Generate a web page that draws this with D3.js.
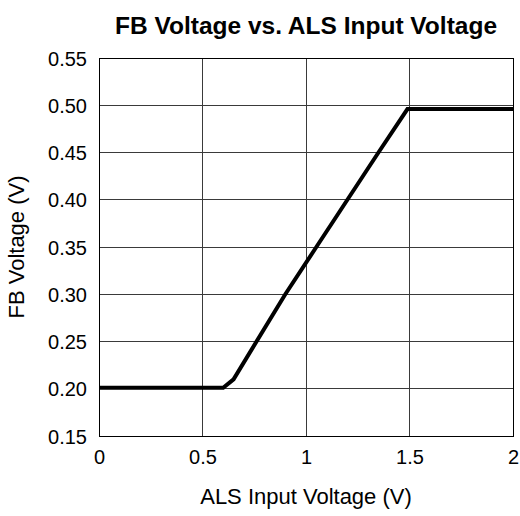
<!DOCTYPE html>
<html>
<head>
<meta charset="utf-8">
<script src="https://cdn.jsdelivr.net/npm/d3@7"></script>
<style>
  html, body { margin: 0; padding: 0; background: #fff; }
  svg { display: block; }
  text { font-family: "Liberation Sans", Arial, sans-serif; fill: #000; }
</style>
</head>
<body>
<svg id="chart" width="520" height="516"></svg>
<script>
const title = "FB Voltage vs. ALS Input Voltage";
const xLabel = "ALS Input Voltage (V)";
const yLabel = "FB Voltage (V)";
const xTicks = [0, 0.5, 1, 1.5, 2];
const yTicks = [0.15, 0.20, 0.25, 0.30, 0.35, 0.40, 0.45, 0.50, 0.55];
const alsInput = [0, 0.60, 0.65, 0.90, 1.05, 1.20, 1.35, 1.49, 2.0];
const fbVoltage = [0.201, 0.201, 0.210, 0.300, 0.350, 0.400, 0.450, 0.496, 0.496];

const svg = d3.select("#chart");
const m = { left: 99, right: 513, top: 58, bottom: 436 };

const x = d3.scaleLinear().domain([0, 2]).range([m.left, m.right]);
const y = d3.scaleLinear().domain([0.15, 0.55]).range([m.bottom, m.top]);

// gridlines
svg.append("g").selectAll("line").data(xTicks).join("line")
  .attr("x1", d => x(d)).attr("x2", d => x(d))
  .attr("y1", m.top).attr("y2", m.bottom)
  .attr("stroke", "#3a3a3a").attr("stroke-width", 1).attr("shape-rendering", "crispEdges");
svg.append("g").selectAll("line").data(yTicks).join("line")
  .attr("x1", m.left).attr("x2", m.right)
  .attr("y1", d => y(d)).attr("y2", d => y(d))
  .attr("stroke", "#3a3a3a").attr("stroke-width", 1).attr("shape-rendering", "crispEdges");

// frame
svg.append("rect")
  .attr("x", m.left).attr("y", m.top)
  .attr("width", m.right - m.left).attr("height", m.bottom - m.top)
  .attr("fill", "none").attr("stroke", "#000").attr("stroke-width", 1)
  .attr("shape-rendering", "crispEdges");

// axes (labels only)
const xAxis = d3.axisBottom(x).tickValues(xTicks).tickSize(0).tickPadding(0)
  .tickFormat(d => d3.format("")(d));
const gx = svg.append("g").attr("transform", `translate(0,${m.bottom})`).call(xAxis);
gx.select(".domain").remove();
gx.selectAll("text").attr("font-size", 20).attr("dy", null).attr("y", 28)
  .style("font-family", '"Liberation Sans", Arial, sans-serif').attr("fill", "#000");

const yAxis = d3.axisLeft(y).tickValues(yTicks).tickSize(0).tickPadding(0)
  .tickFormat(d3.format(".2f"));
const gy = svg.append("g").attr("transform", `translate(${m.left},0)`).call(yAxis);
gy.select(".domain").remove();
gy.selectAll("text").attr("font-size", 20).attr("x", -12).attr("dy", "0.35em")
  .style("font-family", '"Liberation Sans", Arial, sans-serif').attr("fill", "#000");

// data line
const pts = alsInput.map((v, i) => [v, fbVoltage[i]]);
svg.append("path").datum(pts)
  .attr("d", d3.line().x(d => x(d[0])).y(d => y(d[1])))
  .attr("fill", "none").attr("stroke", "#000").attr("stroke-width", 4)
  .attr("stroke-linejoin", "miter");

// title
svg.append("text").attr("x", 306).attr("y", 34)
  .attr("text-anchor", "middle").attr("font-size", 24.5).attr("font-weight", "bold")
  .text(title);

// x label
svg.append("text").attr("x", (m.left + m.right) / 2).attr("y", 504)
  .attr("text-anchor", "middle").attr("font-size", 22).text(xLabel);

// y label
svg.append("text")
  .attr("transform", `translate(24,${(m.top + m.bottom) / 2}) rotate(-90)`)
  .attr("text-anchor", "middle").attr("font-size", 22).text(yLabel);
</script>
</body>
</html>
